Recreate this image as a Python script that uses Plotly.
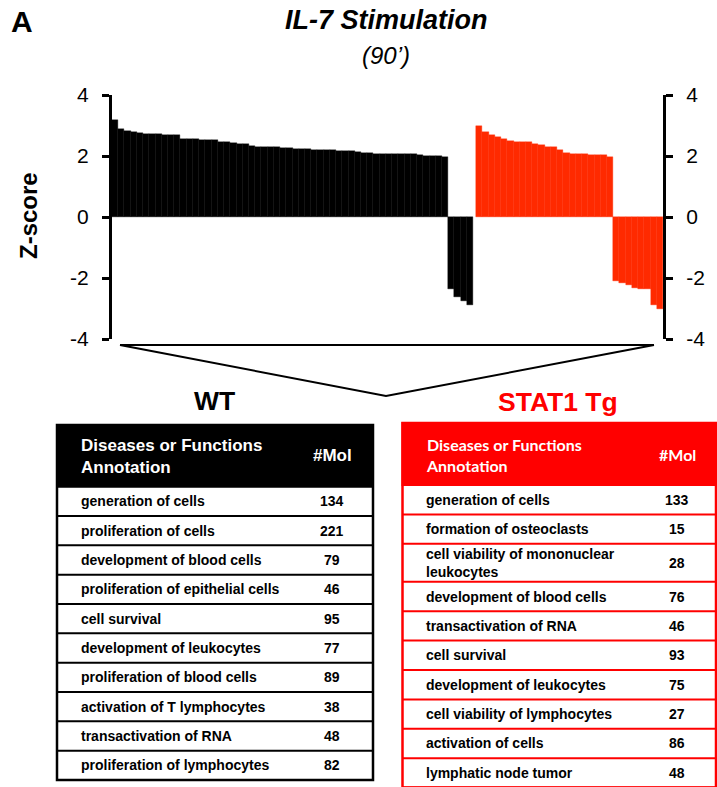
import plotly.graph_objects as go

# ---------------- data ----------------
wt_pos = [3.17, 2.90, 2.82, 2.78, 2.74, 2.73, 2.71, 2.71, 2.70, 2.68, 2.68,
          2.57, 2.56, 2.55, 2.53, 2.53, 2.52, 2.47, 2.45, 2.41, 2.39, 2.38,
          2.34, 2.31, 2.29, 2.28, 2.28, 2.27, 2.25, 2.24, 2.24, 2.23, 2.21,
          2.20, 2.19, 2.19, 2.18, 2.16, 2.15, 2.12, 2.11, 2.10, 2.08, 2.08,
          2.07, 2.06, 2.05, 2.05, 2.05, 2.04, 2.01, 2.00, 1.99, 1.97]
wt_neg = [-2.35, -2.62, -2.77, -2.88]
tg_pos = [3.00, 2.79, 2.69, 2.62, 2.55, 2.49, 2.46, 2.46, 2.45, 2.38, 2.37,
          2.31, 2.29, 2.19, 2.11, 2.07, 2.05, 2.05, 2.04, 2.04, 2.03, 1.98]
tg_neg = [-2.11, -2.18, -2.23, -2.34, -2.35, -2.36, -2.90, -3.02]
y_ticks = [-4, -2, 0, 2, 4]
y_tick_labels = ["-4", "-2", "0", "2", "4"]

wt_functions = ["generation of cells", "proliferation of cells",
                "development of blood cells", "proliferation of epithelial cells",
                "cell survival", "development of leukocytes",
                "proliferation of blood cells", "activation of T lymphocytes",
                "transactivation of RNA", "proliferation of lymphocytes"]
wt_mol = [134, 221, 79, 46, 95, 77, 89, 38, 48, 82]
tg_functions = ["generation of cells", "formation of osteoclasts",
                "cell viability of mononuclear<br>leukocytes",
                "development of blood cells", "transactivation of RNA",
                "cell survival", "development of leukocytes",
                "cell viability of lymphocytes", "activation of cells",
                "lymphatic node tumor"]
tg_mol = [133, 15, 28, 76, 46, 93, 75, 27, 86, 48]

# ---------------- helpers ----------------
W, H = 717, 787
FONT = "Liberation Sans, Arial, sans-serif"
BLACK = "#000000"
RED = "#FF0000"
BAR_RED = "#FF2A00"


def px(x):
    return x / W


def py(y):
    return 1 - y / H


wt_vals = wt_pos + wt_neg
tg_vals = tg_pos + tg_neg
wt_x = list(range(len(wt_vals)))
tg_x = [len(wt_vals) + 0.5 + i for i in range(len(tg_vals))]

fig = go.Figure()
fig.add_bar(x=wt_x, y=wt_vals, width=1.0,
            marker=dict(color=BLACK, line=dict(color=BLACK, width=0.4)),
            showlegend=False, hoverinfo="y")
fig.add_bar(x=tg_x, y=tg_vals, width=1.0,
            marker=dict(color=BAR_RED, line=dict(color=BAR_RED, width=0.4)),
            showlegend=False, hoverinfo="y")
fig.add_scatter(x=[None], y=[None], yaxis="y2", showlegend=False)

yax = dict(range=[-4, 4], domain=[py(339), py(95)], tickvals=y_ticks,
           ticktext=y_tick_labels,
           ticks="outside", ticklen=7, tickwidth=3, tickcolor=BLACK,
           showline=True, linewidth=3, linecolor=BLACK, showgrid=False,
           zeroline=False, tickfont=dict(family=FONT, size=21, color=BLACK),
           ticklabelstandoff=9, fixedrange=True, automargin=False)

fig.update_layout(
    width=W, height=H, margin=dict(l=0, r=0, t=0, b=0, pad=0, autoexpand=False),
    paper_bgcolor="white", plot_bgcolor="white", bargap=0, barmode="overlay",
    xaxis=dict(domain=[px(112), px(663)], range=[-0.5, tg_x[-1] + 0.5],
               visible=False, fixedrange=True, automargin=False),
    yaxis=yax,
    yaxis2=dict(yax, overlaying="y", side="right", anchor="x"),
    font=dict(family=FONT, color=BLACK),
)

ann = []
shapes = []

# titles
ann.append(dict(text="<b>A</b>", x=px(9), y=py(22), xanchor="left", yanchor="middle",
                font=dict(size=30, family=FONT)))
ann.append(dict(text="<b><i>IL-7 Stimulation</i></b>", x=px(386), y=py(20),
                xanchor="center", yanchor="middle", font=dict(size=27, family=FONT)))
ann.append(dict(text="<i>(90’)</i>", x=px(386), y=py(55), xanchor="center",
                yanchor="middle", font=dict(size=24, family=FONT)))
ann.append(dict(text="<b>Z-score</b>", x=px(28), y=py(216), textangle=-90,
                xanchor="center", yanchor="middle", font=dict(size=24, family=FONT)))

# bracket / V connector
line_style = dict(color=BLACK, width=2)
shapes.append(dict(type="line", xref="paper", yref="paper", x0=px(120), y0=py(345),
                   x1=px(654), y1=py(345), line=line_style))
shapes.append(dict(type="path", xref="paper", yref="paper",
                   path=f"M {px(120)},{py(345)} L {px(386)},{py(396)} L {px(654)},{py(345)}",
                   line=line_style))

ann.append(dict(text="<b>WT</b>", x=px(214), y=py(401), xanchor="center",
                yanchor="middle", font=dict(size=26.5, family=FONT, color=BLACK)))
ann.append(dict(text="<b>STAT1 Tg</b>", x=px(558), y=py(402), xanchor="center",
                yanchor="middle", font=dict(size=26.5, family=FONT, color=RED)))


def draw_table(x0, x1, top, head_bottom, base_h, tall_h, names, mols, color,
               head_font, head_size, text_x, num_x):
    shapes.append(dict(type="rect", xref="paper", yref="paper", x0=px(x0), x1=px(x1),
                       y0=py(head_bottom), y1=py(top), fillcolor=color,
                       line=dict(color=color, width=2)))
    ann.append(dict(text="<b>Diseases or Functions<br>Annotation</b>", x=px(text_x),
                    y=py((top + head_bottom) / 2 + 1), xanchor="left", yanchor="middle",
                    align="left", font=dict(size=head_size, family=head_font, color="white")))
    ann.append(dict(text="<b>#Mol</b>", x=px(num_x), y=py((top + head_bottom) / 2),
                    xanchor="center", yanchor="middle",
                    font=dict(size=head_size, family=head_font, color="white")))
    y = head_bottom
    for name, mol in zip(names, mols):
        h = tall_h if "<br>" in name else base_h
        yc = y + h / 2
        ann.append(dict(text=f"<b>{name}</b>", x=px(text_x), y=py(yc), xanchor="left",
                        yanchor="middle", align="left",
                        font=dict(size=14, family=FONT, color=BLACK)))
        ann.append(dict(text=f"<b>{mol}</b>", x=px(num_x), y=py(yc), xanchor="center",
                        yanchor="middle", font=dict(size=14, family=FONT, color=BLACK)))
        y += h
        shapes.append(dict(type="line", xref="paper", yref="paper", x0=px(x0), x1=px(x1),
                           y0=py(y), y1=py(y), line=dict(color=color, width=2)))
    shapes.append(dict(type="rect", xref="paper", yref="paper", x0=px(x0), x1=px(x1),
                       y0=py(y), y1=py(top), line=dict(color=color, width=2.5)))


draw_table(57, 373, 425, 486.7, 29.33, 38, wt_functions, wt_mol, BLACK,
           FONT, 17, 79, 332)
draw_table(402.5, 716, 423, 485, 29.4, 38, tg_functions, tg_mol, RED,
           "Lato, Open Sans, sans-serif", 16, 424, 677)

fig.update_layout(annotations=[dict(a, xref="paper", yref="paper", showarrow=False)
                               for a in ann],
                  shapes=shapes)

fig.write_html("out.html")
